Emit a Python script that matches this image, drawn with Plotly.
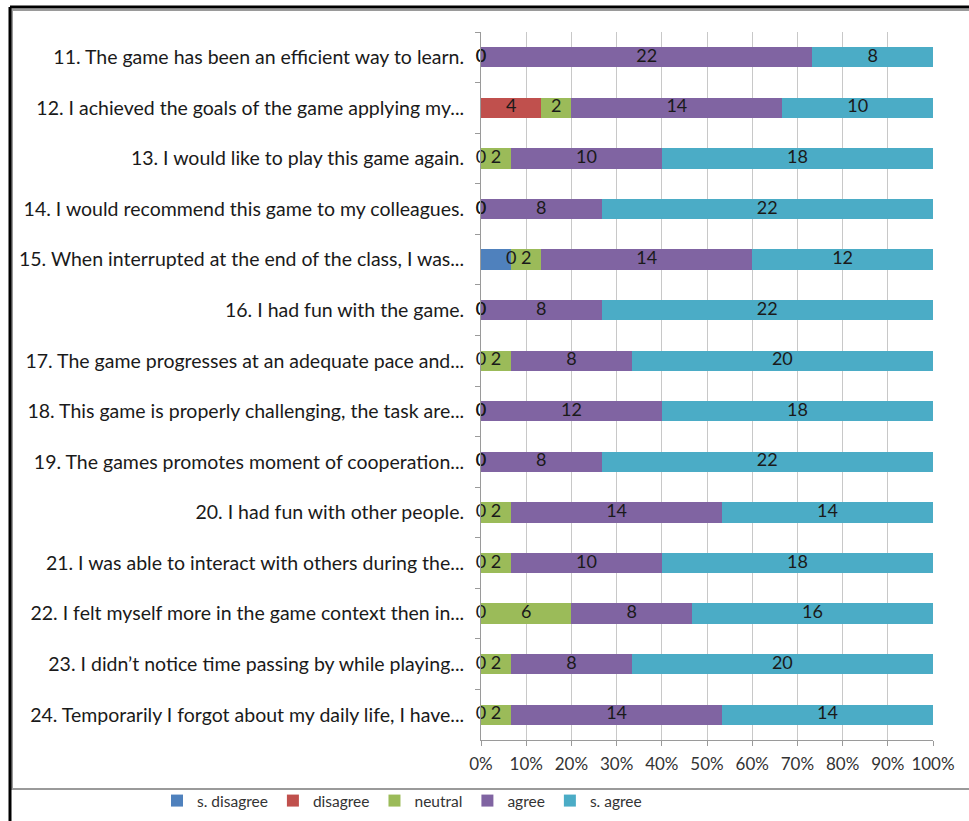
import plotly.graph_objects as go

statements = [
    "11. The game has been an efficient way to learn.",
    "12. I achieved the goals of the game applying my...",
    "13. I would like to play this game again.",
    "14. I would recommend this game to my colleagues.",
    "15. When interrupted at the end of the class, I was...",
    "16. I had fun with the game.",
    "17. The game progresses at an adequate pace and...",
    "18. This game is properly challenging, the task are...",
    "19. The games promotes moment of cooperation...",
    "20. I had fun with other people.",
    "21. I was able to interact with others during the...",
    "22. I felt myself more in the game context then in...",
    "23. I didn\u2019t notice time passing by while playing...",
    "24. Temporarily I forgot about my daily life, I have...",
]

s_disagree = [0, 0, 0, 0, 2, 0, 0, 0, 0, 0, 0, 0, 0, 0]
disagree   = [0, 4, 0, 0, 0, 0, 0, 0, 0, 0, 0, 0, 0, 0]
neutral    = [0, 2, 2, 0, 2, 0, 2, 0, 0, 2, 2, 6, 2, 2]
agree      = [22, 14, 10, 8, 14, 8, 8, 12, 8, 14, 10, 8, 8, 14]
s_agree    = [8, 10, 18, 22, 12, 22, 20, 18, 22, 14, 18, 16, 20, 14]

series_names = ["s. disagree", "disagree", "neutral", "agree", "s. agree"]
series_colors = ["#4F81BD", "#C0504D", "#9BBB59", "#8064A2", "#4BACC6"]
series_values = [s_disagree, disagree, neutral, agree, s_agree]
labelled = [False, True, True, True, True]
x_ticks = list(range(0, 101, 10))

FONT = "Lato"
TXT = "#1a1a1a"
W, H = 969, 821

fig = go.Figure()
for name, color, vals in zip(series_names, series_colors, series_values):
    fig.add_trace(go.Bar(
        y=statements, x=vals, name=name, orientation="h",
        marker=dict(color=color, line=dict(width=0)),
        textposition="none", hoverinfo="skip",
    ))

# data labels at the centre of each (possibly zero-width) segment
lx, ly, lt = [], [], []
for i, st in enumerate(statements):
    total = sum(v[i] for v in series_values)
    cum = 0
    for k, vals in enumerate(series_values):
        v = vals[i]
        if labelled[k]:
            lx.append((cum + v / 2) / total * 100)
            ly.append(st)
            lt.append(str(v))
        cum += v
fig.add_trace(go.Scatter(
    x=lx, y=ly, mode="text", text=lt,
    textposition="middle center", showlegend=False, cliponaxis=False,
    textfont=dict(family=FONT, size=18, color=TXT), hoverinfo="skip",
))

def fx(x):
    return x / W

def fy(y):
    return 1 - y / H

shapes = [
    # chart area border (grey)
    dict(type="rect", xref="paper", yref="paper", x0=fx(12), x1=fx(980), y0=fy(789), y1=fy(10),
         line=dict(color="#9a9a9a", width=2), layer="below"),
    # outer black frame
    dict(type="line", xref="paper", yref="paper", x0=fx(10), x1=fx(10), y0=fy(830), y1=fy(7),
         line=dict(color="black", width=3)),
    dict(type="line", xref="paper", yref="paper", x0=fx(10), x1=fx(980), y0=fy(7), y1=fy(7),
         line=dict(color="black", width=3)),
]

fig.update_layout(
    width=W, height=H, margin=dict(l=0, r=0, t=0, b=0, pad=0, autoexpand=False),
    barmode="stack", barnorm="percent", bargap=0.6,
    plot_bgcolor="white", paper_bgcolor="white",
    font=dict(family=FONT, color="#222"),
    shapes=shapes,
    legend=dict(orientation="h", x=fx(402), xanchor="center", y=fy(801), yanchor="middle",
                bgcolor="rgba(0,0,0,0)",
                font=dict(family=FONT, size=15.5, color="#333"), traceorder="normal",
                itemwidth=30, itemclick=False),
    xaxis=dict(domain=[fx(481), fx(933)], range=[0, 100], tickvals=x_ticks,
               ticktext=[f"{t}%" for t in x_ticks], automargin=False,
               showgrid=True, gridcolor="#c8c8c8", gridwidth=1,
               showline=True, linecolor="#9a9a9a", linewidth=1,
               ticks="outside", ticklen=5, tickcolor="#9a9a9a", ticklabelstandoff=4,
               tickfont=dict(family=FONT, size=17, color="#333"), zeroline=False,
               fixedrange=True),
    yaxis=dict(domain=[fy(740), fy(32)], range=[len(statements) - 0.5, -0.5], automargin=False,
               showline=True, linecolor="#9a9a9a", linewidth=1,
               ticks="outside", tickson="boundaries", ticklen=5, tickcolor="#9a9a9a",
               showgrid=False, ticklabelstandoff=12,
               tickfont=dict(family=FONT, size=19.5, color="#1a1a1a"), fixedrange=True),
)

fig.write_html("out.html")
